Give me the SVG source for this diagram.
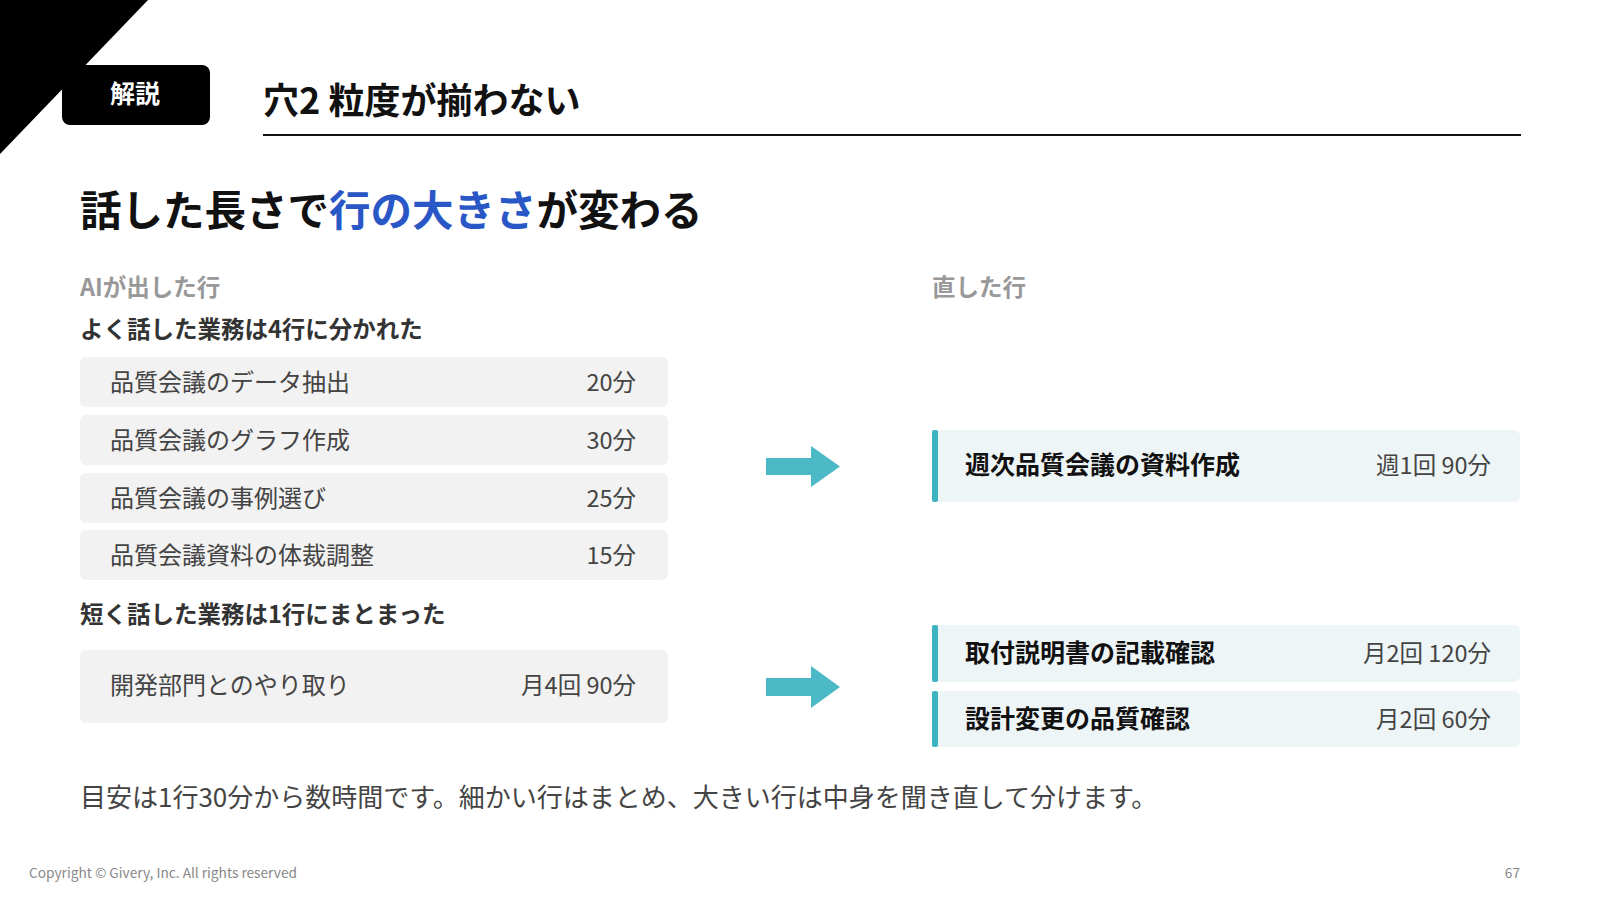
<svg xmlns="http://www.w3.org/2000/svg" width="1600" height="900" viewBox="0 0 1600 900">
<style>
text{font-family:"Noto Sans CJK JP","Noto Sans",sans-serif}
.row{fill:#f2f2f2}
.rt{font-size:24px;fill:#444}
.rb{fill:#eef5f6}
.bar{fill:#3db5c0}
.bt{font-size:25px;font-weight:bold;fill:#111}
.bn{font-size:23.5px;fill:#444;text-anchor:end}
.arr{fill:#4bbac6}
.sub{font-size:23.5px;font-weight:bold;fill:#999}
.cap{font-size:23.5px;font-weight:bold;fill:#333}
</style>
<rect width="1600" height="900" fill="#fff"/>
<polygon points="0,0 148,0 0,154" fill="#000"/>
<g id="tag"><rect x="62" y="65" width="148" height="60" rx="8" fill="#000"/>
<text x="135" y="103" font-size="25" font-weight="bold" fill="#fff" text-anchor="middle">解説</text></g>
<text x="263" y="114" font-size="36" font-weight="bold" fill="#111">穴2 粒度が揃わない</text>
<line x1="263" y1="135" x2="1521" y2="135" stroke="#111" stroke-width="2"/>
<text x="80" y="226" font-size="41.5" font-weight="bold" fill="#111">話した長さで<tspan fill="#2a57c6">行の大きさ</tspan>が変わる</text>
<text class="sub" x="80" y="296">AIが出した行</text>
<text class="sub" x="932" y="296">直した行</text>
<text class="cap" x="80" y="338">よく話した業務は4行に分かれた</text>
<g id="l1"><rect class="row" x="80" y="357" width="588" height="50" rx="6"/><text class="rt" x="110" y="391">品質会議のデータ抽出</text><text class="bn" x="636" y="391">20分</text></g>
<g id="l2"><rect class="row" x="80" y="415" width="588" height="50" rx="6"/><text class="rt" x="110" y="449">品質会議のグラフ作成</text><text class="bn" x="636" y="449">30分</text></g>
<g id="l3"><rect class="row" x="80" y="473" width="588" height="50" rx="6"/><text class="rt" x="110" y="507">品質会議の事例選び</text><text class="bn" x="636" y="507">25分</text></g>
<g id="l4"><rect class="row" x="80" y="530" width="588" height="50" rx="6"/><text class="rt" x="110" y="564">品質会議資料の体裁調整</text><text class="bn" x="636" y="564">15分</text></g>
<text class="cap" x="80" y="623">短く話した業務は1行にまとまった</text>
<g id="l5"><rect class="row" x="80" y="650" width="588" height="73" rx="6"/><text class="rt" x="110" y="694">開発部門とのやり取り</text><text class="bn" x="636" y="694">月4回 90分</text></g>
<g id="connectors">
<polygon class="arr" points="766,458 811,458 811,446 840,466.5 811,487 811,475 766,475"/>
<polygon class="arr" points="766,678 811,678 811,666 840,687 811,708 811,696 766,696"/>
</g>
<g id="r1"><rect class="rb" x="932" y="430" width="588" height="72" rx="6"/><rect class="bar" x="932" y="430" width="6" height="72" rx="2"/><text class="bt" x="965" y="474">週次品質会議の資料作成</text><text class="bn" x="1491" y="474">週1回 90分</text></g>
<g id="r2"><rect class="rb" x="932" y="625" width="588" height="57" rx="6"/><rect class="bar" x="932" y="625" width="6" height="57" rx="2"/><text class="bt" x="965" y="662">取付説明書の記載確認</text><text class="bn" x="1491" y="662">月2回 120分</text></g>
<g id="r3"><rect class="rb" x="932" y="691" width="588" height="56" rx="6"/><rect class="bar" x="932" y="691" width="6" height="56" rx="2"/><text class="bt" x="965" y="728">設計変更の品質確認</text><text class="bn" x="1491" y="728">月2回 60分</text></g>
<text x="80" y="807" font-size="26" fill="#444">目安は1行30分から数時間です。細かい行はまとめ、大きい行は中身を聞き直して分けます。</text>
<text x="29" y="878" font-size="13.7" fill="#888">Copyright © Givery, Inc. All rights reserved</text>
<text x="1520" y="878" font-size="13.7" fill="#888" text-anchor="end">67</text>
</svg>
